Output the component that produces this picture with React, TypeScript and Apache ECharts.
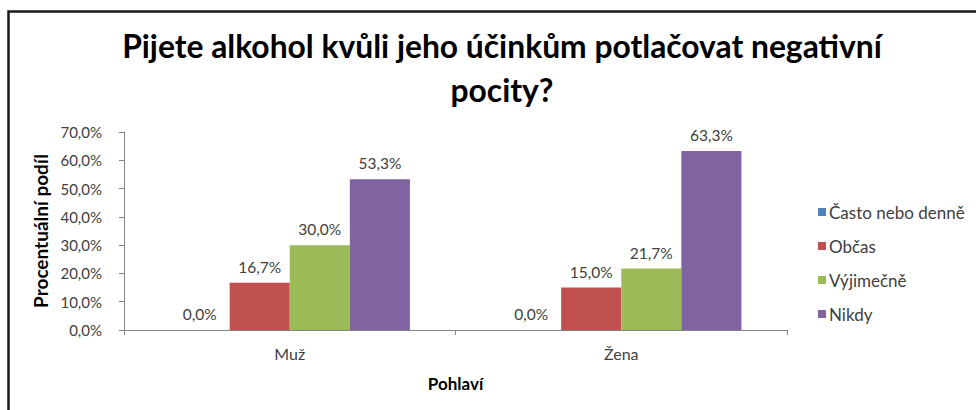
import React, { useEffect, useRef } from "react";
import * as echarts from "echarts";

const categories = ["Muž", "Žena"];
const seriesNames = ["Často nebo denně", "Občas", "Výjimečně", "Nikdy"];
const oftenValues = [0.0, 0.0];
const sometimesValues = [16.7, 15.0];
const rarelyValues = [30.0, 21.7];
const neverValues = [53.3, 63.3];
const colors = ["#4F81BD", "#C0504D", "#9BBB59", "#8064A2"];

const FONT = "Lato";
const fmt = (v: number) => v.toFixed(1).replace(".", ",") + "%";

export default function App() {
  const ref = useRef<HTMLDivElement>(null);
  useEffect(() => {
    if (!ref.current) return;
    const chart = echarts.init(ref.current, null, { renderer: "svg" });
    const values = [oftenValues, sometimesValues, rarelyValues, neverValues];
    chart.setOption({
      animation: false,
      backgroundColor: "#ffffff",
      textStyle: { fontFamily: FONT },
      graphic: [
        {
          type: "rect",
          shape: { x: 8.5, y: 11.5, width: 1000, height: 500 },
          style: { fill: "none", stroke: "#1a1a1a", lineWidth: 2.5 },
          silent: true,
        },
      ],
      title: {
        text: "Pijete alkohol kvůli jeho účinkům potlačovat negativní\npocity?",
        left: 497,
        top: 19,
        textAlign: "center",
        textStyle: {
          fontFamily: FONT,
          fontSize: 31.8,
          fontWeight: "bold",
          color: "#000000",
          lineHeight: 44,
        },
      },
      legend: {
        orient: "vertical",
        left: 813,
        top: 197,
        itemGap: 14,
        itemWidth: 8,
        itemHeight: 8,
        icon: "rect",
        data: seriesNames,
        textStyle: { fontFamily: FONT, fontSize: 17, lineHeight: 20, color: "#404040", padding: [0, 0, 0, -2] },
      },
      grid: { left: 124, top: 132, right: 189, bottom: 80, containLabel: false },
      xAxis: {
        type: "category",
        data: categories,
        name: "Pohlaví",
        nameLocation: "middle",
        nameGap: 45,
        nameTextStyle: { fontFamily: FONT, fontSize: 17, fontWeight: "bold", color: "#000000" },
        axisLine: { show: true, lineStyle: { color: "#868686", width: 1 } },
        axisTick: { show: true, length: 5, alignWithLabel: false, lineStyle: { color: "#868686" } },
        axisLabel: { fontFamily: FONT, fontSize: 16, color: "#404040", margin: 15 },
        splitLine: { show: false },
      },
      yAxis: {
        type: "value",
        min: 0,
        max: 70,
        interval: 10,
        name: "Procentuální podíl",
        nameLocation: "middle",
        nameRotate: 90,
        nameGap: 71,
        nameTextStyle: { fontFamily: FONT, fontSize: 19, fontWeight: "bold", color: "#000000" },
        axisLine: { show: true, lineStyle: { color: "#868686", width: 1 } },
        axisTick: { show: true, length: 5, inside: false, lineStyle: { color: "#868686" } },
        axisLabel: { fontFamily: FONT, fontSize: 15, color: "#404040", margin: 22, formatter: (v: number) => fmt(v) },
        splitLine: { show: false },
      },
      series: seriesNames.map((name, i) => ({
        type: "bar",
        name,
        data: values[i],
        barGap: "0%",
        barCategoryGap: "27.5%",
        itemStyle: { color: colors[i] },
        label: {
          show: true,
          position: "top",
          distance: 8,
          fontFamily: FONT,
          fontSize: 15.5,
          color: "#404040",
          formatter: (p: any) => fmt(p.value),
        },
      })),
    });
    return () => chart.dispose();
  }, []);
  return (
    <div
      ref={ref}
      style={{ position: "absolute", left: 0, top: 0, width: 976, height: 410 }}
    />
  );
}
